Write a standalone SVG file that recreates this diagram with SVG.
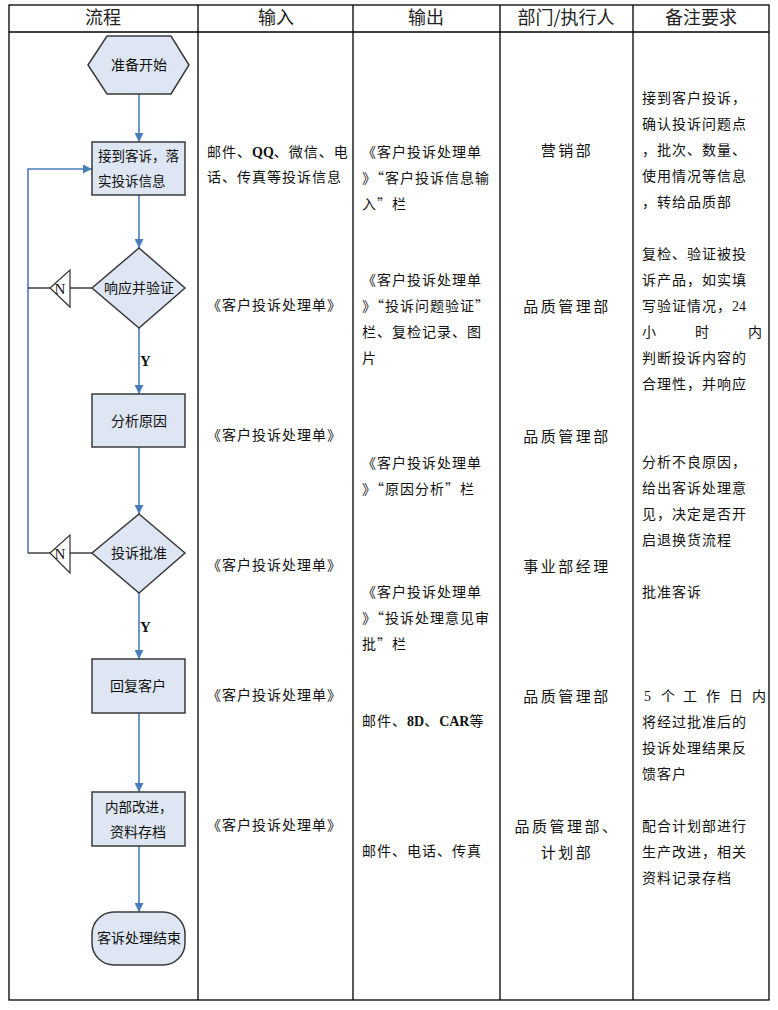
<svg xmlns="http://www.w3.org/2000/svg" width="778" height="1010" viewBox="0 0 778 1010">
<style>
.grid{stroke:#000;stroke-width:1.3;fill:none}
.hdr{font-family:"Noto Sans CJK SC","Noto Sans",sans-serif;font-size:18px;fill:#222;text-anchor:middle}
.cell{font-family:"Noto Sans CJK SC","Noto Sans",sans-serif;font-size:14px;fill:#111;letter-spacing:1px}
.dept{font-family:"Noto Sans CJK SC","Noto Sans",sans-serif;font-size:15px;fill:#111;letter-spacing:2.5px;text-anchor:middle}
.lat{font-family:"Liberation Serif",serif;font-weight:bold;letter-spacing:0}
.num{font-family:"Liberation Serif",serif;letter-spacing:0}
.node{fill:#DDE6F2;stroke:#3a3a3a;stroke-width:1.5}
.ntxt{font-family:"Noto Sans CJK SC","Noto Sans",sans-serif;font-size:14px;fill:#111;text-anchor:middle}
.ntxs{font-family:"Noto Sans CJK SC","Noto Sans",sans-serif;font-size:13.5px;fill:#111;text-anchor:start}
.flow{stroke:#4A7EBB;stroke-width:1.6;fill:none}
.dark{stroke:#222;stroke-width:1.3;fill:none}
.tri{fill:#fff;stroke:#333;stroke-width:1.2}
.lbl{font-family:"Liberation Serif",serif;font-size:15px;fill:#111}
</style>
<defs>
<marker id="arr" viewBox="0 0 10 10" refX="10" refY="5" markerWidth="9" markerHeight="9" markerUnits="userSpaceOnUse" orient="auto">
<path d="M0,0 L10,5 L0,10 z" fill="#4A7EBB"/>
</marker>
</defs>
<rect width="778" height="1010" fill="#fff"/>
<g id="table">
<rect class="grid" x="9" y="5" width="760" height="995"/>
<line class="grid" x1="9" y1="32" x2="769" y2="32"/>
<line class="grid" x1="198" y1="5" x2="198" y2="1000"/>
<line class="grid" x1="353" y1="5" x2="353" y2="1000"/>
<line class="grid" x1="500" y1="5" x2="500" y2="1000"/>
<line class="grid" x1="633" y1="5" x2="633" y2="1000"/>
<text class="hdr" x="103" y="24">流程</text>
<text class="hdr" x="276" y="24">输入</text>
<text class="hdr" x="426" y="24">输出</text>
<text class="hdr" x="566" y="24">部门/执行人</text>
<text class="hdr" x="701" y="24">备注要求</text>
</g>
<g id="connectors">
<line class="flow" x1="139" y1="94" x2="139" y2="142" marker-end="url(#arr)"/>
<line class="flow" x1="139" y1="195" x2="139" y2="248" marker-end="url(#arr)"/>
<line class="flow" x1="139" y1="328" x2="139" y2="394" marker-end="url(#arr)"/>
<line class="flow" x1="139" y1="447" x2="139" y2="514" marker-end="url(#arr)"/>
<line class="flow" x1="139" y1="593" x2="139" y2="659" marker-end="url(#arr)"/>
<line class="flow" x1="139" y1="713" x2="139" y2="792" marker-end="url(#arr)"/>
<line class="flow" x1="139" y1="846" x2="139" y2="912" marker-end="url(#arr)"/>
<polyline class="flow" points="28,553 28,169 92,169" marker-end="url(#arr)"/>
<line class="dark" x1="92" y1="288" x2="70" y2="288"/>
<line class="dark" x1="50" y1="288" x2="28" y2="288"/>
<line class="dark" x1="92" y1="553" x2="70" y2="553"/>
<line class="dark" x1="50" y1="553" x2="28" y2="553"/>
<polygon class="tri" points="50,288 70,270 70,307"/>
<text class="lbl" x="60" y="294" text-anchor="middle">N</text>
<polygon class="tri" points="50,553 70,535 70,573"/>
<text class="lbl" x="60" y="559" text-anchor="middle">N</text>
<text class="lbl" x="140" y="366" font-weight="bold" font-size="16">Y</text>
<text class="lbl" x="140" y="632" font-weight="bold" font-size="16">Y</text>
</g>
<g id="n_start">
<polygon class="node" points="88,65 107,36 171,36 189,65 171,94 107,94"/>
<text class="ntxt" x="139" y="70">准备开始</text>
</g>
<g id="n_receive">
<rect class="node" x="92" y="142" width="93" height="53"/>
<text class="ntxs" x="98" y="161">接到客诉，落</text>
<text class="ntxs" x="98" y="186">实投诉信息</text>
</g>
<g id="n_verify">
<polygon class="node" points="139,248 185,288 139,328 92,288"/>
<text class="ntxt" x="139" y="293">响应并验证</text>
</g>
<g id="n_analyze">
<rect class="node" x="92" y="394" width="93" height="53"/>
<text class="ntxt" x="139" y="426">分析原因</text>
</g>
<g id="n_approve">
<polygon class="node" points="139,514 185,553 139,593 92,553"/>
<text class="ntxt" x="139" y="558">投诉批准</text>
</g>
<g id="n_reply">
<rect class="node" x="92" y="659" width="93" height="54"/>
<text class="ntxt" x="138" y="691">回复客户</text>
</g>
<g id="n_improve">
<rect class="node" x="92" y="792" width="93" height="54"/>
<text class="ntxs" x="105" y="812">内部改进，</text>
<text class="ntxt" x="138" y="837">资料存档</text>
</g>
<g id="n_end">
<rect class="node" x="92" y="912" width="93" height="53" rx="22" ry="22"/>
<text class="ntxt" x="139" y="943">客诉处理结束</text>
</g>
<g id="col_input" class="cell">
<text x="207" y="157">邮件、<tspan class="lat">QQ</tspan>、微信、电</text>
<text x="207" y="182">话、传真等投诉信息</text>
<text x="207" y="310">《客户投诉处理单》</text>
<text x="207" y="440">《客户投诉处理单》</text>
<text x="207" y="570">《客户投诉处理单》</text>
<text x="207" y="700">《客户投诉处理单》</text>
<text x="207" y="830">《客户投诉处理单》</text>
</g>
<g id="col_output" class="cell">
<text x="362" y="157">《客户投诉处理单</text>
<text x="362" y="183">》“客户投诉信息输</text>
<text x="362" y="209">入”栏</text>
<text x="362" y="285">《客户投诉处理单</text>
<text x="362" y="311">》“投诉问题验证”</text>
<text x="362" y="337">栏、复检记录、图</text>
<text x="362" y="363">片</text>
<text x="362" y="468">《客户投诉处理单</text>
<text x="362" y="494">》“原因分析”栏</text>
<text x="362" y="597">《客户投诉处理单</text>
<text x="362" y="623">》“投诉处理意见审</text>
<text x="362" y="649">批”栏</text>
<text x="362" y="726">邮件、<tspan class="lat">8D</tspan>、<tspan class="lat">CAR</tspan>等</text>
<text x="362" y="856">邮件、电话、传真</text>
</g>
<g id="col_dept">
<text class="dept" x="567" y="156">营销部</text>
<text class="dept" x="567" y="312">品质管理部</text>
<text class="dept" x="567" y="442">品质管理部</text>
<text class="dept" x="567" y="572">事业部经理</text>
<text class="dept" x="567" y="702">品质管理部</text>
<text class="dept" x="567" y="832">品质管理部、</text>
<text class="dept" x="567" y="858">计划部</text>
</g>
<g id="col_notes" class="cell">
<text x="642" y="103">接到客户投诉，</text>
<text x="642" y="129">确认投诉问题点</text>
<text x="642" y="155">，批次、数量、</text>
<text x="642" y="181">使用情况等信息</text>
<text x="642" y="207">，转给品质部</text>
<text x="642" y="259">复检、验证被投</text>
<text x="642" y="285">诉产品，如实填</text>
<text x="642" y="311">写验证情况，<tspan class="num">24</tspan></text>
<text x="642 695 748" y="337">小时内</text>
<text x="642" y="363">判断投诉内容的</text>
<text x="642" y="389">合理性，并响应</text>
<text x="642" y="467">分析不良原因，</text>
<text x="642" y="493">给出客诉处理意</text>
<text x="642" y="519">见，决定是否开</text>
<text x="642" y="545">启退换货流程</text>
<text x="642" y="597">批准客诉</text>
<text x="644" y="701" class="num">5</text>
<text x="661 683 706 729 752" y="701">个工作日内</text>
<text x="642" y="727">将经过批准后的</text>
<text x="642" y="753">投诉处理结果反</text>
<text x="642" y="779">馈客户</text>
<text x="642" y="831">配合计划部进行</text>
<text x="642" y="857">生产改进，相关</text>
<text x="642" y="883">资料记录存档</text>
</g>
</svg>
